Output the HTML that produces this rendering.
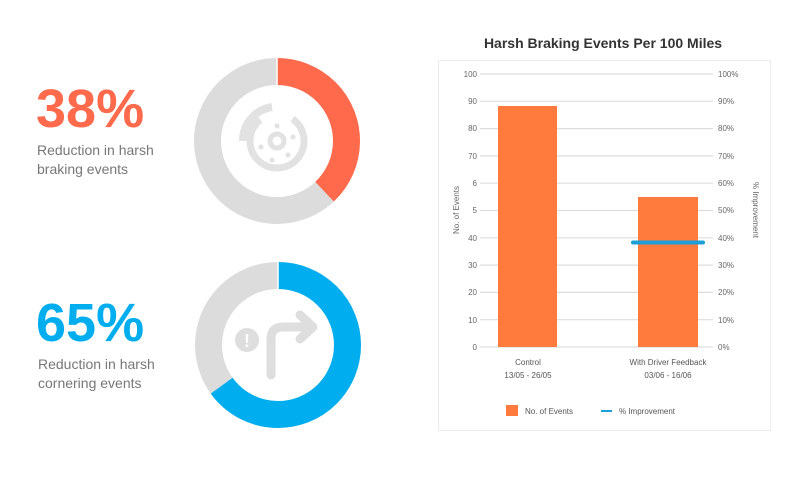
<!DOCTYPE html>
<html><head><meta charset="utf-8"><style>
html,body{margin:0;padding:0;background:#fff;}
body{width:800px;height:478px;overflow:hidden;font-family:"Liberation Sans",sans-serif;}
</style></head><body>
<svg width="800" height="478" viewBox="0 0 800 478" xmlns="http://www.w3.org/2000/svg" font-family="Liberation Sans, sans-serif">
<text x="36" y="127" font-size="54" font-weight="bold" fill="#FF6A4D">38%</text>
<text x="37" y="155" font-size="14" fill="#777">Reduction in harsh</text>
<text x="37" y="174" font-size="14" fill="#777">braking events</text>
<text x="36" y="341" font-size="54" font-weight="bold" fill="#00AEEF">65%</text>
<text x="38" y="369" font-size="14" fill="#777">Reduction in harsh</text>
<text x="38" y="388" font-size="14" fill="#777">cornering events</text>

<g transform="translate(277,141)">
<circle r="69.5" fill="none" stroke="#dcdcdc" stroke-width="27"/>
<circle r="69.5" fill="none" stroke="#FF6A4D" stroke-width="27" stroke-dasharray="165.9 500" transform="rotate(-90)"/>
<line x1="0" y1="-84" x2="0" y2="-55" stroke="#fff" stroke-width="1.5"/>
<circle r="27" fill="none" stroke="#e2e2e2" stroke-width="7" stroke-dasharray="135 35" transform="rotate(-55)"/>
<circle r="7" fill="none" stroke="#e2e2e2" stroke-width="5"/>
<circle cx="0" cy="-15" r="2.5" fill="#e2e2e2"/><circle cx="16" cy="-4" r="2.5" fill="#e2e2e2"/><circle cx="11" cy="14" r="2.5" fill="#e2e2e2"/><circle cx="-5" cy="19" r="2.5" fill="#e2e2e2"/><circle cx="-16" cy="6" r="2.5" fill="#e2e2e2"/>
<path d="M-34,0 A34,34 0 0 1 -5,-34" fill="none" stroke="#e2e2e2" stroke-width="8"/>
</g>

<g transform="translate(278,345)">
<circle r="69.5" fill="none" stroke="#dcdcdc" stroke-width="27"/>
<circle r="69.5" fill="none" stroke="#00AEEF" stroke-width="27" stroke-dasharray="283.9 500" transform="rotate(-90)"/>
<line x1="0" y1="-84" x2="0" y2="-55" stroke="#fff" stroke-width="1.5"/>
<circle cx="-31" cy="-5" r="12" fill="#dedede"/>
<text x="-31" y="2" font-size="18" font-weight="bold" fill="#fff" text-anchor="middle">!</text>
<path d="M-7,30 V-6 Q-7,-18 5,-18 H34 M22,-30 L35,-18 L22,-6" fill="none" stroke="#dedede" stroke-width="9" stroke-linecap="round" stroke-linejoin="round"/>
</g>

<text x="603" y="48" font-size="14" font-weight="bold" fill="#333" text-anchor="middle">Harsh Braking Events Per 100 Miles</text>
<rect x="438.5" y="60.5" width="332" height="370" fill="#fff" stroke="#ececec"/>
<g stroke="#dddddd" stroke-width="1.2">
<line x1="480" y1="74" x2="713" y2="74"/><line x1="480" y1="101.3" x2="713" y2="101.3"/><line x1="480" y1="128.6" x2="713" y2="128.6"/><line x1="480" y1="155.9" x2="713" y2="155.9"/><line x1="480" y1="183.2" x2="713" y2="183.2"/><line x1="480" y1="210.5" x2="713" y2="210.5"/><line x1="480" y1="237.8" x2="713" y2="237.8"/><line x1="480" y1="265.1" x2="713" y2="265.1"/><line x1="480" y1="292.4" x2="713" y2="292.4"/><line x1="480" y1="319.7" x2="713" y2="319.7"/><line x1="480" y1="347" x2="713" y2="347"/>
</g>
<g font-size="8" fill="#666" text-anchor="end">
<text x="477" y="77">100</text><text x="477" y="104">90</text><text x="477" y="131">80</text><text x="477" y="159">70</text><text x="477" y="186">6</text><text x="477" y="213">5</text><text x="477" y="241">40</text><text x="477" y="268">30</text><text x="477" y="295">20</text><text x="477" y="323">10</text><text x="477" y="350">0</text>
</g>
<g font-size="8" fill="#666">
<text x="718" y="77">100%</text><text x="718" y="104">90%</text><text x="718" y="131">80%</text><text x="718" y="159">70%</text><text x="718" y="186">60%</text><text x="718" y="213">50%</text><text x="718" y="241">40%</text><text x="718" y="268">30%</text><text x="718" y="295">20%</text><text x="718" y="323">10%</text><text x="718" y="350">0%</text>
</g>
<text transform="translate(459,210) rotate(-90)" font-size="8" fill="#666" text-anchor="middle">No. of Events</text>
<text transform="translate(753,210) rotate(90)" font-size="8" fill="#666" text-anchor="middle">% Improvement</text>
<rect x="498" y="106" width="59" height="241" fill="#FF7A3D"/>
<rect x="638" y="197" width="60" height="150" fill="#FF7A3D"/>
<line x1="633" y1="242.5" x2="703" y2="242.5" stroke="#1E9FD8" stroke-width="4" stroke-linecap="round"/>
<g font-size="8" fill="#555" text-anchor="middle">
<text x="528" y="365">Control</text><text x="528" y="378">13/05 - 26/05</text>
<text x="668" y="365">With Driver Feedback</text><text x="668" y="378">03/06 - 16/06</text>
</g>
<rect x="506" y="405" width="12" height="11" fill="#FF7A3D"/>
<text x="525" y="414" font-size="8" fill="#555">No. of Events</text>
<line x1="601" y1="411" x2="612" y2="411" stroke="#1E9FD8" stroke-width="2"/>
<text x="619" y="414" font-size="8" fill="#555">% Improvement</text>
</svg>
</body></html>
